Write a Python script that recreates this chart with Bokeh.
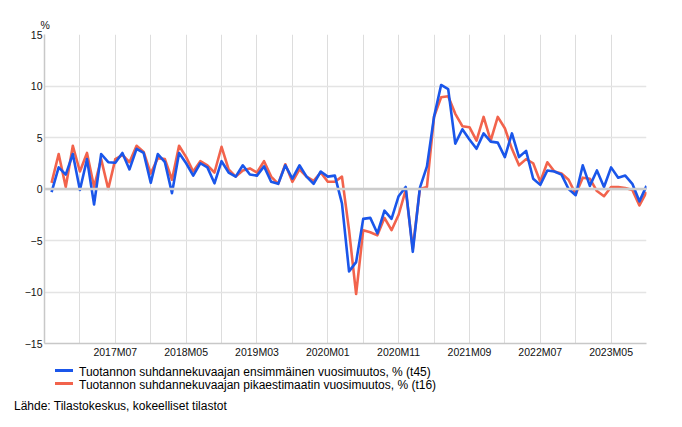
from bokeh.plotting import figure
from bokeh.layouts import column
from bokeh.models import Range1d, FixedTicker, Span, Title, Div
from bokeh.embed import file_html
from bokeh.resources import INLINE

# Months 2016M10 .. 2023M10
months = []
y, m = 2016, 10
while (y, m) <= (2023, 10):
    months.append(f"{y}M{m:02d}")
    m += 1
    if m > 12:
        m = 1
        y += 1

# t45: first estimate of annual change (%)
first_estimate = [
    -0.3, 2.1, 1.4, 3.4, -0.1, 2.9, -1.5, 3.4, 2.6, 2.55,
    3.5, 1.9, 3.9, 3.5, 0.6, 3.4, 2.6, -0.4, 3.5, 2.5,
    1.3, 2.5, 2.1, 0.55, 2.7, 1.6, 1.2, 2.3, 1.4, 1.3,
    2.2, 0.7, 0.5, 2.3, 1.0, 2.3, 1.2, 0.5, 1.7, 1.2,
    1.3, -1.4, -8.0, -7.1, -2.9, -2.8, -4.3, -2.1, -2.9, -0.7,
    0.2, -6.1, 0.1, 2.2, 7.0, 10.1, 9.7, 4.4, 5.8, 4.8,
    3.9, 5.4, 4.6, 4.5, 3.1, 5.4, 3.1, 3.7, 1.0, 0.4,
    1.8, 1.7, 1.4, 0.0, -0.6, 2.3, 0.3, 1.8, 0.2, 2.1,
    1.1, 1.3, 0.5, -1.2, 0.3,
]

# t16: flash estimate of annual change (%)
flash_estimate = [
    0.6, 3.4, 0.2, 4.2, 1.7, 3.5, 0.2, 2.9, 0.0, 2.9,
    3.3, 2.6, 4.2, 3.6, 1.5, 3.0, 2.9, 0.9, 4.2, 3.1,
    1.7, 2.7, 2.3, 1.6, 4.1, 1.9, 1.2, 1.8, 2.0, 1.6,
    2.7, 1.2, 0.5, 2.4, 0.7, 1.9, 1.2, 0.8, 1.6, 0.7,
    0.7, 1.2, -4.0, -10.2, -4.0, -4.2, -4.5, -2.8, -4.0, -2.5,
    -0.1, -5.8, 0.0, 0.2, 7.0, 8.9, 9.0, 7.3, 6.1, 6.0,
    4.7, 7.0, 4.7, 7.0, 5.9, 3.9, 2.3, 2.9, 2.5, 0.7,
    2.6, 1.7, 1.5, 0.9, -0.5, 1.1, 1.0, -0.2, -0.7, 0.2,
    0.2, 0.1, -0.1, -1.6, -0.3,
]

tick_labels = ["2017M07", "2018M05", "2019M03", "2020M01",
               "2020M11", "2021M09", "2022M07", "2023M05"]
y_ticks = [-15, -10, -5, 0, 5, 10, 15]

series_names = [
    "Tuotannon suhdannekuvaajan ensimmäinen vuosimuutos, % (t45)",
    "Tuotannon suhdannekuvaajan pikaestimaatin vuosimuutos, % (t16)",
]
series_colors = ["#1a56ea", "#f2634c"]
source_text = "Lähde: Tilastokeskus, kokeelliset tilastot"
unit_text = "%"

x = list(range(len(months)))
tick_pos = [months.index(t) for t in tick_labels]
grid_pos = list(range(tick_pos[0] - 5, len(months), 5))

FONT = "Liberation Sans"
FS = "10.5px"
TXT = "#111111"
LW = 2.6
H1 = 362          # main chart height
H2 = 427 - H1     # legend/source strip height

# ---------------- main chart ----------------
p = figure(width=682, height=H1, output_backend="svg", toolbar_location=None,
           x_range=Range1d(-1, len(months) - 1), y_range=Range1d(-15, 15),
           min_border_left=44, min_border_right=36, min_border_top=34,
           min_border_bottom=H1 - 343)
p.outline_line_color = None
p.background_fill_color = "white"
p.border_fill_color = "white"

p.title = Title(text=unit_text, align="left", offset=-4, standoff=8,
                text_font=FONT, text_font_size=FS, text_font_style="normal",
                text_color=TXT)

p.yaxis.ticker = FixedTicker(ticks=y_ticks)
p.xaxis.ticker = FixedTicker(ticks=tick_pos)
p.xaxis.major_label_overrides = {pos: lab for pos, lab in zip(tick_pos, tick_labels)}
for ax in (p.xaxis[0], p.yaxis[0]):
    ax.major_tick_line_color = None
    ax.minor_tick_line_color = None
    ax.major_tick_out = 0
    ax.major_tick_in = 0
    ax.minor_tick_out = 0
    ax.minor_tick_in = 0
    ax.axis_line_color = "#c8c8c8"
    ax.axis_line_width = 1.5
    ax.major_label_text_font = FONT
    ax.major_label_text_font_size = FS
    ax.major_label_text_color = TXT
p.xaxis.major_label_standoff = 2
p.yaxis.major_label_standoff = 2

p.xgrid.ticker = FixedTicker(ticks=grid_pos)
p.xgrid.grid_line_color = "#dddddd"
p.xgrid.grid_line_width = 1
p.ygrid.ticker = FixedTicker(ticks=y_ticks)
p.ygrid.grid_line_color = "#e4e4e4"
p.ygrid.grid_line_width = 1.5

p.add_layout(Span(location=0, dimension="width", line_color="#cccccc", line_width=2.5))

p.line(x, flash_estimate, line_color=series_colors[1], line_width=LW, line_join="round")
p.line(x, first_estimate, line_color=series_colors[0], line_width=LW, line_join="round")

# ---------------- legend + source strip (HTML) ----------------
font_css = f"font-family:'{FONT}',Arial,sans-serif;font-size:{FS};color:{TXT};line-height:13px;white-space:nowrap;"
rows = []
for k, (name, col) in enumerate(zip(series_names, series_colors)):
    cy = 370 - H1 + 13 * k
    rows.append(
        f"<div style='position:absolute;left:55px;top:{cy - 1.5}px;width:18px;height:3px;background:{col};'></div>"
        f"<div style='position:absolute;left:79px;top:{cy - 6.5}px;{font_css}'>{name}</div>"
    )
rows.append(f"<div style='position:absolute;left:14px;top:{397.5 - H1}px;{font_css}'>{source_text}</div>")
html = (f"<div style='position:relative;width:682px;height:{H2}px;margin:0;padding:0;'>"
        + "".join(rows) + "</div>")
strip = Div(text=html, width=682, height=H2, margin=(0, 0, 0, 0))

open("out.html", "w").write(file_html(column(p, strip, spacing=0), INLINE))
